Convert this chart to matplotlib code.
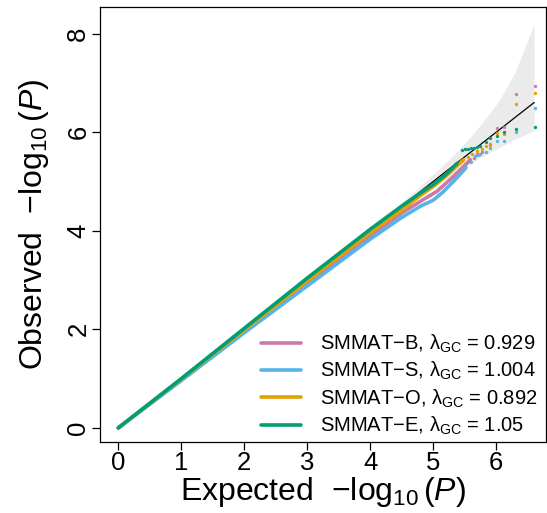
import matplotlib
matplotlib.use("Agg")
import matplotlib.pyplot as plt

# ==========================================================
# Data
# ==========================================================

series_names = ["SMMAT\u2212B", "SMMAT\u2212S", "SMMAT\u2212O", "SMMAT\u2212E"]
lambda_gc = ["0.929", "1.004", "0.892", "1.05"]
colors = ["#CC79A7", "#56B4E9", "#E69F00", "#009E73"]

# dense part of each QQ curve (expected, observed)
b_exp = [0, 1, 2, 3, 4, 4.5, 4.8, 5.06, 5.32, 5.48, 5.59]
b_obs = [0, 0.97, 1.95, 2.92, 3.90, 4.36, 4.60, 4.80, 5.10, 5.30, 5.44]

s_exp = [0, 1, 2, 3, 4, 4.5, 4.8, 5.0, 5.15, 5.32, 5.43, 5.52]
s_obs = [0, 0.96, 1.93, 2.88, 3.83, 4.27, 4.50, 4.62, 4.78, 5.00, 5.15, 5.28]

o_exp = [0, 1, 2, 3, 4, 4.5, 4.8, 5.0, 5.22, 5.32, 5.48]
o_obs = [0, 0.99, 1.99, 2.98, 3.96, 4.42, 4.72, 4.90, 5.13, 5.25, 5.44]

e_exp = [0, 1, 2, 3, 4, 4.5, 4.8, 5.0, 5.2, 5.38]
e_obs = [0, 1.0, 2.02, 3.04, 4.03, 4.50, 4.77, 4.94, 5.14, 5.37]

# top hits drawn as single points
b_tail_exp = [5.65, 5.70, 5.77, 5.90, 6.01, 6.13, 6.31, 6.61]
b_tail_obs = [5.48, 5.55, 5.60, 5.77, 6.09, 6.10, 6.77, 6.94]

s_tail_exp = [5.60, 5.67, 5.71, 5.75, 5.83, 5.90, 6.01, 6.13, 6.31, 6.61]
s_tail_obs = [5.40, 5.52, 5.54, 5.55, 5.60, 5.67, 5.82, 5.82, 6.00, 6.50]

o_tail_exp = [5.55, 5.62, 5.70, 5.78, 5.83, 5.90, 6.01, 6.13, 6.31, 6.61]
o_tail_obs = [5.50, 5.55, 5.62, 5.66, 5.72, 5.73, 5.98, 5.96, 6.57, 6.79]

e_tail_exp = [5.45, 5.50, 5.55, 5.60, 5.65, 5.70, 5.75, 5.83, 5.90, 6.01, 6.13, 6.31, 6.61]
e_tail_obs = [5.64, 5.65, 5.66, 5.67, 5.68, 5.70, 5.72, 5.80, 5.88, 5.93, 6.00, 6.07, 6.10]

# 95% band around the diagonal
band_x = [2.0, 2.6, 3.6, 4.12, 4.6, 4.9, 5.12, 5.3, 5.45, 5.6, 5.75, 5.9, 6.0, 6.12, 6.3, 6.6]
band_lo = [1.99, 2.58, 3.57, 4.07, 4.52, 4.79, 4.97, 5.13, 5.25, 5.37, 5.48, 5.59, 5.66, 5.74, 5.86, 6.03]
band_hi = [2.01, 2.62, 3.63, 4.17, 4.69, 5.03, 5.29, 5.51, 5.71, 5.92, 6.15, 6.39, 6.56, 6.81, 7.22, 8.19]

diag = [0, 6.6]

x_ticks = [0, 1, 2, 3, 4, 5, 6]
y_ticks = [0, 2, 4, 6, 8]

# ==========================================================
# Plot
# ==========================================================

plt.rcParams["font.family"] = ["Liberation Sans", "DejaVu Sans"]
plt.rcParams["mathtext.fontset"] = "custom"
plt.rcParams["mathtext.rm"] = "Liberation Sans"
plt.rcParams["mathtext.it"] = "Liberation Sans:italic"

fig = plt.figure(figsize=(5.47, 5.13), dpi=100)
ax = fig.add_axes([100 / 547, 71.3 / 513, 446 / 547, 434.7 / 513])

ax.fill_between(band_x, band_lo, band_hi, color="#EBEBEB", lw=0, zorder=1)
ax.plot(diag, diag, color="black", lw=0.9, zorder=2)

curves = [(b_exp, b_obs), (s_exp, s_obs), (o_exp, o_obs), (e_exp, e_obs)]
tails = [(b_tail_exp, b_tail_obs), (s_tail_exp, s_tail_obs),
         (o_tail_exp, o_tail_obs), (e_tail_exp, e_tail_obs)]

for i in range(4):
    label = series_names[i] + ", \u03bb$_{\\mathrm{GC}}$ = " + lambda_gc[i]
    ax.plot(curves[i][0], curves[i][1], color=colors[i], lw=2.6,
            solid_capstyle="round", solid_joinstyle="round",
            zorder=3 + i, label=label)
    ax.plot(tails[i][0], tails[i][1], ls="none", marker="o", ms=2.4,
            mec="none", color=colors[i], zorder=3 + i)

ax.set_xlim(-0.29, 6.79)
ax.set_ylim(-0.28, 8.54)
ax.set_xticks(x_ticks)
ax.set_yticks(y_ticks)
ax.tick_params(labelsize=18.5, length=6, width=0.9, pad=1)
for lab in ax.get_yticklabels():
    lab.set_rotation(90)
    lab.set_va("center")
for s in ax.spines.values():
    s.set_linewidth(0.9)

ax.set_xlabel("Expected  $-\\log_{10}(\\mathit{P})$", fontsize=23, labelpad=0)
ax.set_ylabel("Observed  $-\\log_{10}(\\mathit{P})$", fontsize=23, labelpad=11)

leg = ax.legend(loc="lower right", bbox_to_anchor=(537 / 547, 76 / 513),
                bbox_transform=fig.transFigure, frameon=False, fontsize=14.5,
                handlelength=2.0, handletextpad=0.9, labelspacing=0.25,
                borderpad=0, borderaxespad=0)

fig.savefig("out.png", dpi=100)
